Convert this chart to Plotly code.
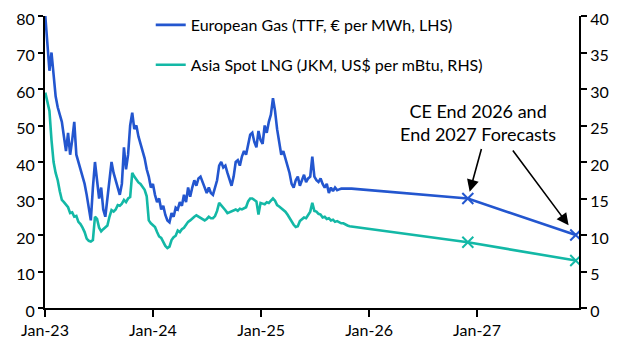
import pandas as pd
import plotly.graph_objects as go

# ---------------- data ----------------
week_start = "2023-01-02"

# European Gas (TTF, EUR per MWh) weekly, LHS
ttf_values = [
    80, 72, 65, 70, 63, 58, 55, 53, 51, 47,
    43, 48, 42, 46, 51, 42, 40, 38, 36, 34,
    31, 27, 24, 33, 40, 35, 30, 33, 27, 25,
    30, 36, 40, 37, 35, 33, 31, 34, 44, 38,
    42, 50, 53.5, 49, 50, 47, 45, 43, 41, 38,
    36, 33, 34, 31, 29, 30, 27, 28, 25.5, 24,
    23.5, 26, 25, 27.5, 27, 29, 28, 31, 29, 33,
    30.5, 33, 35, 33.5, 35.5, 36, 34.5, 33, 31.5, 33,
    31.5, 31, 33, 35, 39, 40, 38.5, 39, 37, 35,
    33.5, 36, 40, 40.5, 39, 41.5, 43, 42, 44.5, 47.5,
    48, 45.5, 44, 48.5, 46, 45, 50, 48, 51, 53,
    57.5, 54, 49, 45, 42, 43, 41, 39.5, 37, 34,
    33, 35, 36, 33.5, 35, 36.5, 34.5, 35.5, 36, 41.5,
    36, 35, 34.5, 35.5, 34, 33, 34, 31.5, 33, 32,
    33, 32.3, 32.5, 32.7,
]

# Asia Spot LNG (JKM, US$ per mBtu) weekly, RHS
jkm_values = [
    29.5, 28, 27, 23, 20, 18.5, 17.5, 16, 14.8, 14.5,
    14.2, 13.8, 13, 13.1, 12.5, 12.6, 11.8, 11.5, 11, 10.4,
    9.5, 9.2, 9.1, 9.3, 12.5, 12.2, 11, 10.5, 10.8, 11.1,
    11.3, 12.5, 13.4, 13.2, 13.5, 14.1, 14, 14.3, 14.8, 14.5,
    15, 15.2, 18.5, 18, 17.5, 17.2, 17, 16.6, 16.2, 15.3,
    12, 11.6, 11.3, 11.1, 10.4, 9.8, 9.6, 9, 8.5, 8.2,
    8.4, 9.3, 9.7, 9.9, 10.6, 10.4, 10.8, 11, 11.5, 11.8,
    12, 12.3, 12.5, 12.7, 12.5, 12.3, 12.2, 12, 12.2, 12.5,
    12.3, 12.3, 12.6, 13.3, 14.4, 14.1, 13.7, 13.4, 13, 13.1,
    13.3, 13.4, 13.5, 13.3, 13.6, 13.5, 13.6, 13.8, 14.6, 15,
    15, 14.8, 14.6, 12.8, 14.4, 14.3, 14.2, 14.5, 14.4, 14.7,
    15, 14.7, 14.1, 13.9, 13.7, 13.5, 13.2, 12.8, 12.3, 11.9,
    11.4, 11.1, 11.2, 11.9, 12.2, 12.4, 12.3, 12.8, 13.2, 14.4,
    13.3, 13.2, 12.9, 12.8, 12.4, 12.5, 12.2, 12.3, 12, 12.1,
    11.8, 11.9, 11.7, 11.6, 11.6, 11.4, 11.3, 11.2,
]

# bridge point and CE forecasts
ttf_bridge_date = ["2025-11-03"]
ttf_bridge_value = [32.7]
forecast_dates = ["2026-12-01", "2027-12-01"]
ttf_forecast = [30, 20]
jkm_forecast = [9, 6.5]

x_tick_vals = ["2023-01-01", "2024-01-01", "2025-01-01", "2026-01-01", "2027-01-01"]
x_tick_text = ["Jan-23", "Jan-24", "Jan-25", "Jan-26", "Jan-27"]

legend_ttf = "European Gas (TTF, € per MWh, LHS)"
legend_jkm = "Asia Spot LNG (JKM, US$ per mBtu, RHS)"
annot_text = "CE End 2026 and<br>End 2027 Forecasts"

# ---------------- build ----------------
ttf_dates = list(pd.date_range(week_start, periods=len(ttf_values), freq="7D").strftime("%Y-%m-%d"))
jkm_dates = list(pd.date_range(week_start, periods=len(jkm_values), freq="7D").strftime("%Y-%m-%d"))

BLUE = "#2356CF"
TEAL = "#13B8A6"
FONT = "Lato"

fig = go.Figure()

fig.add_trace(go.Scatter(
    x=ttf_dates + ttf_bridge_date + forecast_dates,
    y=ttf_values + ttf_bridge_value + ttf_forecast,
    mode="lines", line=dict(color=BLUE, width=2.6),
    name=legend_ttf, legendgroup="a", yaxis="y", cliponaxis=False,
))
fig.add_trace(go.Scatter(
    x=jkm_dates + forecast_dates,
    y=jkm_values + jkm_forecast,
    mode="lines", line=dict(color=TEAL, width=2.6),
    name=legend_jkm, legendgroup="b", yaxis="y2",
))
fig.add_trace(go.Scatter(
    x=forecast_dates, y=ttf_forecast, mode="markers", showlegend=False,
    marker=dict(symbol="x-thin", size=11, line=dict(width=2, color=BLUE)),
    yaxis="y", hoverinfo="skip",
))
fig.add_trace(go.Scatter(
    x=forecast_dates, y=jkm_forecast, mode="markers", showlegend=False,
    marker=dict(symbol="x-thin", size=11, line=dict(width=2, color=TEAL)),
    yaxis="y2", hoverinfo="skip",
))

axis_common = dict(
    showgrid=False, zeroline=False, showline=True, linecolor="black", linewidth=2,
    ticks="outside", tickcolor="black", tickwidth=2,
    tickfont=dict(family=FONT, size=16, color="black"),
    ticklabeloverflow="allow",
)

# page body has an 8px margin, so the figure is sized/offset to compensate
fig.update_layout(
    width=613, height=339,
    margin=dict(l=37, r=42, t=8, b=39, autoexpand=False),
    paper_bgcolor="white", plot_bgcolor="white",
    font=dict(family=FONT, size=16, color="black"),
    xaxis=dict(
        **axis_common, ticklen=7,
        range=["2023-01-01", "2027-12-12"],
        tickvals=x_tick_vals, ticktext=x_tick_text,
    ),
    yaxis=dict(**axis_common, ticklen=5, range=[0, 80], dtick=10, tick0=0,
               ticklabelshift=3),
    yaxis2=dict(**axis_common, ticklen=6, range=[0, 40], dtick=5, tick0=0,
                overlaying="y", side="right", anchor="x", ticklabelshift=3),
    legend=dict(
        x=0.198, y=1.0, xanchor="left", yanchor="top", yref="container",
        bgcolor="rgba(0,0,0,0)", tracegroupgap=16,
        font=dict(family=FONT, size=16, color="black"),
    ),
    showlegend=True,
)

fig.add_annotation(
    x=0.811, y=0.635, xref="paper", yref="paper",
    xanchor="center", yanchor="middle",
    text=annot_text, showarrow=False, align="center",
    font=dict(family=FONT, size=18, color="black"),
)
fig.add_annotation(
    x=forecast_dates[0], y=ttf_forecast[0], xref="x", yref="y",
    text="", showarrow=True, arrowhead=2, arrowsize=1.5, arrowwidth=1.6,
    arrowcolor="black", standoff=7, ax=14, ay=-51,
)
fig.add_annotation(
    x=forecast_dates[1], y=ttf_forecast[1], xref="x", yref="y",
    text="", showarrow=True, arrowhead=2, arrowsize=1.5, arrowwidth=1.6,
    arrowcolor="black", standoff=12, ax=-64, ay=-86,
)

fig.write_html("out.html")
